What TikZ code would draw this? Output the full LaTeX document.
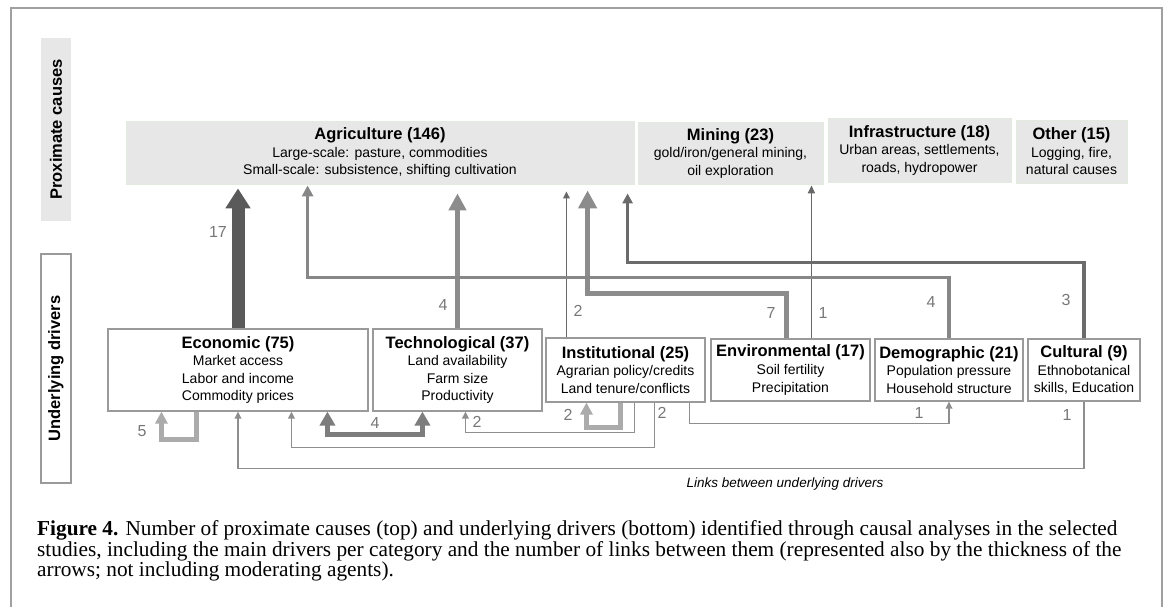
\documentclass[tikz,border=0pt]{standalone}
\usepackage{fontspec}
\setmainfont{Liberation Serif}
\setsansfont{Liberation Sans}
\usetikzlibrary{arrows.meta,positioning,calc}

\newcommand{\ttlfont}{\fontsize{16.5}{19}\selectfont\bfseries}

\begin{document}
\begin{tikzpicture}[x=1pt,y=-1pt,
    causa/.style={fill=boxgrey, draw=boxline, line width=0.8pt, align=center, inner sep=0pt,
        font=\sffamily\fontsize{14}{17.5}\selectfont},
    driver/.style={fill=white, draw=driverline, line width=1.1pt, align=center, inner sep=0pt,
        font=\sffamily\fontsize{14}{17.6}\selectfont},
    sidelabel/.style={rotate=90, inner sep=0pt, minimum height=30pt,
        font=\sffamily\fontsize{16.5}{19}\selectfont\bfseries},
    num/.style={inner sep=0pt, text=numgrey, font=\sffamily\fontsize{16}{16}\selectfont},
    link/.style={draw=clink, line width=1.8pt, -{Triangle[width=6.5pt,length=7pt]}},
    loop/.style={draw=cloop, line width=5pt, -{Triangle[width=12pt,length=12pt]}}
]
    % Colori
    \definecolor{boxgrey}{HTML}{E7E7E7}
    \definecolor{boxline}{HTML}{E3EBE0}
    \definecolor{driverline}{HTML}{9A9A9A}
    \definecolor{numgrey}{HTML}{777777}
    \definecolor{c17}{HTML}{5A5A5A}
    \definecolor{ctech}{HTML}{8C8C8C}
    \definecolor{cdemo}{HTML}{878787}
    \definecolor{ccult}{HTML}{6B6B6B}
    \definecolor{cthin}{HTML}{686868}
    \definecolor{cloop}{HTML}{ABABAB}
    \definecolor{cet}{HTML}{7D7D7D}
    \definecolor{clink}{HTML}{8E8E8E}
    \definecolor{frame}{HTML}{A0A0A0}

    \useasboundingbox (0,0) rectangle (1168,607);

    % Cornice
    \draw[frame, line width=1.2pt] (11,607) -- (11,8) -- (1162,8) -- (1162,607);

    % Etichette laterali
    \node[sidelabel, fill=boxgrey, minimum width=183pt] (proxlabel) at (56,129.5) {Proximate causes};
    \node[sidelabel, draw=driverline, line width=1.1pt, minimum width=229pt] (undlabel) at (56,368.5) {Underlying drivers};

    % Cause prossime
    \node[causa, minimum width=508pt, minimum height=63pt] (agri) at (380,152.5)
        {{\ttlfont Agriculture (146)}\\Large-scale: pasture, commodities\\Small-scale: subsistence, shifting cultivation};
    \node[causa, minimum width=185pt, minimum height=62pt] (mining) at (730.5,153)
        {{\ttlfont Mining (23)}\\gold/iron/general mining,\\oil exploration};
    \node[causa, minimum width=183pt, minimum height=64pt] (infra) at (919.5,150)
        {{\ttlfont Infrastructure (18)}\\Urban areas, settlements,\\roads, hydropower};
    \node[causa, minimum width=111pt, minimum height=63pt] (other) at (1071.5,151.5)
        {{\ttlfont Other (15)}\\Logging, fire,\\natural causes};

    % Fattori sottostanti
    \node[driver, minimum width=260pt, minimum height=82pt] (econ) at (238,370)
        {{\ttlfont Economic (75)}\\Market access\\Labor and income\\Commodity prices};
    \node[driver, minimum width=169pt, minimum height=82pt] (tech) at (457.5,370)
        {{\ttlfont Technological (37)}\\Land availability\\Farm size\\Productivity};
    \node[driver, minimum width=159pt, minimum height=64pt] (inst) at (625.5,370)
        {{\ttlfont Institutional (25)}\\Agrarian policy/credits\\Land tenure/conflicts};
    \node[driver, minimum width=159pt, minimum height=62pt] (envi) at (790.5,370)
        {{\ttlfont Environmental (17)}\\Soil fertility\\Precipitation};
    \node[driver, minimum width=148pt, minimum height=62pt] (demo) at (949,370)
        {{\ttlfont Demographic (21)}\\Population pressure\\Household structure};
    \node[driver, minimum width=112pt, minimum height=62pt] (cult) at (1084,370)
        {{\ttlfont Cultural (9)}\\Ethnobotanical\\skills, Education};

    % Punti di attacco
    \coordinate (agri-c) at ([xshift=462pt]agri.south west);
    \coordinate (agri-d) at ([xshift=182pt]agri.south west);
    \coordinate (agri-e) at ([xshift=502pt]agri.south west);
    \coordinate (inst-a) at ([xshift=21pt]inst.north west);
    \coordinate (envi-a) at ([xshift=76pt]envi.north west);
    \coordinate (envi-m) at ([xshift=101pt]envi.north west);
    \coordinate (econ-s1) at ([xshift=89pt]econ.south west);
    \coordinate (econ-s2) at ([xshift=54pt]econ.south west);
    \coordinate (econ-t) at ([xshift=220pt]econ.south west);
    \coordinate (econ-i) at ([xshift=184pt]econ.south west);
    \coordinate (tech-e) at ([xshift=50pt]tech.south west);
    \coordinate (tech-i) at ([xshift=93pt]tech.south west);
    \coordinate (inst-e) at ([xshift=109pt]inst.south west);
    \coordinate (inst-t) at ([xshift=89pt]inst.south west);
    \coordinate (inst-s1) at ([xshift=75pt]inst.south west);
    \coordinate (inst-s2) at ([xshift=41pt]inst.south west);
    \coordinate (inst-d) at ([xshift=144pt]inst.south west);

    % Frecce verso le cause prossime
    \draw[draw=c17, line width=13pt, -{Triangle[width=24pt,length=20pt]}, shorten >=4pt]
        (econ.north) -- (econ.north |- agri.south);
    \draw[draw=ctech, line width=5pt, -{Triangle[width=17pt,length=17pt]}, shorten >=9pt]
        (tech.north) -- (tech.north |- agri.south);
    \draw[draw=cthin, line width=1.8pt, -{Triangle[width=6.5pt,length=7pt]}, shorten >=7pt]
        (inst-a) -- (inst-a |- agri.south);
    \draw[draw=ctech, line width=5.5pt, -{Triangle[width=18pt,length=18pt]}, shorten >=6pt]
        (envi-a) -- ++(0,-45) -| (agri-c);
    \draw[draw=cthin, line width=1.8pt, -{Triangle[width=7pt,length=8pt]}, shorten >=1pt]
        (envi-m) -- (envi-m |- mining.south);
    \draw[draw=cdemo, line width=3.3pt, -{Triangle[width=11pt,length=11pt]}, shorten >=1pt]
        (demo.north) -- ++(0,-61) -| (agri-d);
    \draw[draw=ccult, line width=3.3pt, -{Triangle[width=10pt,length=10pt]}, shorten >=9pt]
        (cult.north) -- ++(0,-76) -| (agri-e);

    \node[num] at (218,232) {17};
    \node[num] at (443,305) {4};
    \node[num] at (578,311) {2};
    \node[num] at (771,313) {7};
    \node[num] at (823,313) {1};
    \node[num] at (931,302) {4};
    \node[num] at (1066,300) {3};

    % Legami tra fattori sottostanti
    \draw[loop] (econ-s1) -- ++(0,28) -| (econ-s2);
    \draw[draw=cet, line width=5pt, {Triangle[width=15pt,length=14pt]}-{Triangle[width=15pt,length=14pt]}]
        (econ-t) -- ++(0,23) -| (tech-e);
    \draw[link] (inst-e) -- ++(0,45) -| (econ-i);
    \draw[link] (inst-t) -- ++(0,30) -| (tech-i);
    \draw[loop] (inst-s1) -- ++(0,25) -| (inst-s2);
    \draw[link] (inst-d) -- ++(0,21) -| (demo.south);
    \draw[link] (cult.south) -- ++(0,67) -| (econ.south);

    \node[num] at (142,431) {5};
    \node[num] at (375,423) {4};
    \node[num] at (477,422) {2};
    \node[num] at (568,415) {2};
    \node[num] at (662,413) {2};
    \node[num] at (919,413) {1};
    \node[num] at (1067,415) {1};

    \node[inner sep=0pt, font=\sffamily\itshape\fontsize{13.5}{14}\selectfont] (linkstitle) at (785,484)
        {Links between underlying drivers};

    % Didascalia
    \node[anchor=north west, align=left, inner sep=0pt, font=\fontsize{21.3}{20.8}\selectfont] (caption) at (37,520)
        {\textbf{Figure 4.} Number of proximate causes (top) and underlying drivers (bottom) identified through causal analyses in the selected\\
         studies, including the main drivers per category and the number of links between them (represented also by the thickness of the\\
         arrows; not including moderating agents).};
\end{tikzpicture}
\end{document}
